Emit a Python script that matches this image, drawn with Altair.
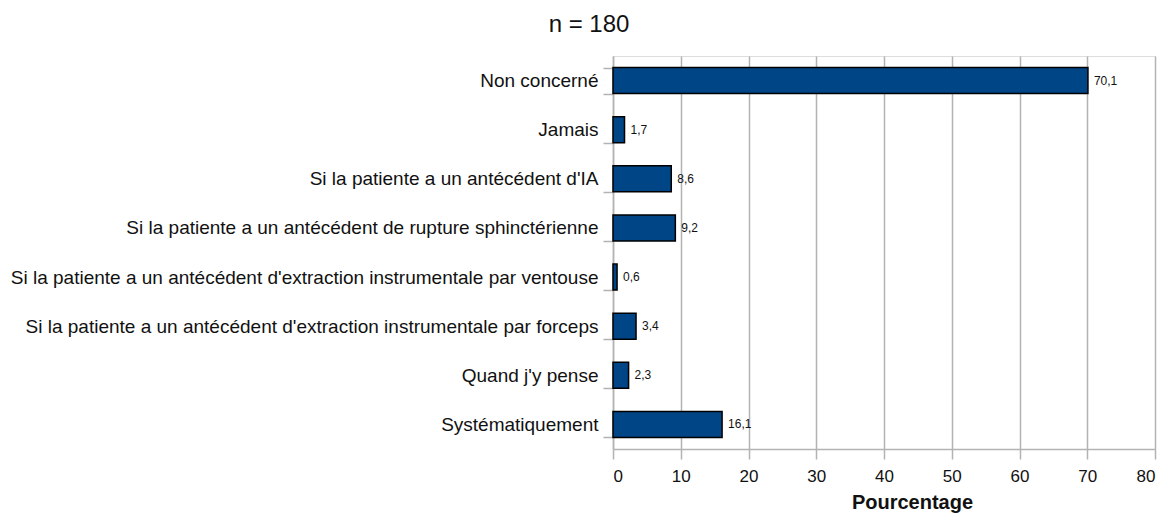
import altair as alt
import pandas as pd

categories = [
    "Non concerné",
    "Jamais",
    "Si la patiente a un antécédent d'IA",
    "Si la patiente a un antécédent de rupture sphinctérienne",
    "Si la patiente a un antécédent d'extraction instrumentale par ventouse",
    "Si la patiente a un antécédent d'extraction instrumentale par forceps",
    "Quand j'y pense",
    "Systématiquement",
]
values = [70.1, 1.7, 8.6, 9.2, 0.6, 3.4, 2.3, 16.1]
x_ticks = [0, 10, 20, 30, 40, 50, 60, 70, 80]

df = pd.DataFrame({"cat": categories, "val": values})

FONT = "Liberation Sans"
GRID = "#b3b3b3"
TXT = "#111111"

y_enc = alt.Y(
    "cat:N",
    sort=categories,
    scale=alt.Scale(paddingInner=0.47, paddingOuter=0.235),
    axis=alt.Axis(
        title=None,
        labelFont=FONT,
        labelFontSize=19,
        labelColor=TXT,
        labelPadding=5,
        labelLimit=700,
        tickSize=10,
        tickColor=GRID,
        tickWidth=1.5,
        tickBand="extent",
        domainColor=GRID,
        domainWidth=1.5,
        grid=False,
    ),
)

x_enc = alt.X(
    "val:Q",
    scale=alt.Scale(domain=[0, 80], nice=False),
    axis=alt.Axis(
        values=x_ticks,
        title="Pourcentage",
        titleFont=FONT,
        titleFontSize=20,
        titleFontWeight="bold",
        titleColor=TXT,
        titlePadding=8,
        titleX=299,
        labelFont=FONT,
        labelFontSize=17,
        labelColor=TXT,
        labelPadding=9,
        tickSize=10,
        tickColor=GRID,
        tickWidth=1.5,
        domainColor=GRID,
        domainWidth=1.5,
        grid=True,
        gridColor=GRID,
        gridWidth=1.5,
    ),
)

bars = alt.Chart(df).mark_bar(
    color="#004586", stroke="#000000", strokeWidth=1.5
).encode(x=x_enc, y=y_enc)

labels = alt.Chart(df).transform_calculate(
    lab="replace(format(datum.val, '.1f'), '.', ',')"
).mark_text(
    align="left", baseline="middle", dx=6, font=FONT, fontSize=12, color=TXT
).encode(
    x=alt.X("val:Q"),
    y=alt.Y("cat:N", sort=categories),
    text="lab:N",
)

chart = (
    alt.layer(bars, labels)
    .properties(
        width=542,
        height=393,
        autosize=alt.AutoSizeParams(type="none"),
        padding={"left": 605, "top": 48, "right": 9, "bottom": 68},
        title=alt.TitleParams(
            "n = 180",
            font=FONT,
            fontSize=24,
            fontWeight="normal",
            color=TXT,
            anchor="middle",
            offset=10,
            dx=-295,
        ),
    )
    .configure_view(stroke=GRID, strokeWidth=1.5)
    .configure(background="white")
)

chart.save("out.html", embed_options={"renderer": "svg", "actions": False})
